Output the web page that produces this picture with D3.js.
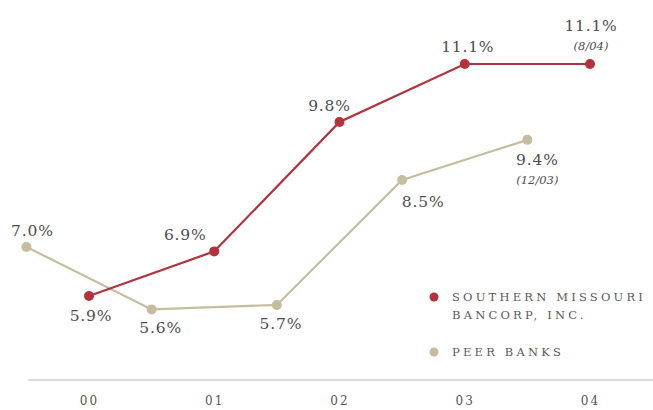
<!DOCTYPE html>
<html><head><meta charset="utf-8">
<script src="https://cdn.jsdelivr.net/npm/d3@7"></script>
<style>body{margin:0;background:#fff}svg{display:block}</style>
</head><body>
<svg id="c" width="653" height="410"></svg>
<script>
const years = ["00","01","02","03","04"];
const smbValues = [5.9, 6.9, 9.8, 11.1, 11.1];
const peerValues = [7.0, 5.6, 5.7, 8.5, 9.4];
const smbNotes = ["", "", "", "", "(8/04)"];
const peerNotes = ["", "", "", "", "(12/03)"];
const legendLabels = [["SOUTHERN MISSOURI", "BANCORP, INC."], ["PEER BANKS"]];

const RED = "#b3323c", TAN = "#c4bd9f", TXT = "#4d4d4d";
const svg = d3.select("#c");
const x = d3.scaleLinear().domain([0, 4]).range([89, 590]);
const y = d3.scaleLinear().domain([5.9, 11.1]).range([296, 64]);

// axis
const axis = d3.axisBottom(x).tickValues([0,1,2,3,4]).tickFormat(i => years[i]).tickSize(0).tickPadding(16);
const ax = svg.append("g").attr("transform", "translate(0,380)").call(axis);
ax.select(".domain").remove();
ax.append("line").attr("x1", 28).attr("x2", 653).attr("stroke", "#cfcfcf").attr("stroke-width", 1.5);
ax.selectAll("text").attr("font-family", "DejaVu Serif").attr("font-size", 12).attr("letter-spacing", 2).attr("fill", "#555");

const smb = smbValues.map((v, i) => ({x: x(i), y: y(v), v, note: smbNotes[i]}));
const peer = peerValues.map((v, i) => ({x: x(i - 0.5), y: y(v), v, note: peerNotes[i]}));
const line = d3.line().x(d => d.x).y(d => d.y);

svg.append("path").datum(peer).attr("d", line).attr("fill", "none").attr("stroke", TAN).attr("stroke-width", 2.2);
svg.append("path").datum(smb).attr("d", line).attr("fill", "none").attr("stroke", RED).attr("stroke-width", 2.2);
svg.selectAll(".pp").data(peer).join("circle").attr("cx", d => d.x).attr("cy", d => d.y).attr("r", 5).attr("fill", TAN);
svg.selectAll(".sp").data(smb).join("circle").attr("cx", d => d.x).attr("cy", d => d.y).attr("r", 5).attr("fill", RED);

// label offsets [dx, dy] relative to each point
const smbOff = [[2, 25], [-29, -11], [-10, -11], [3, -12], [1, -33]];
const peerOff = [[6, -11], [9, 24], [4, 24], [21, 27], [10, 25]];
function labels(pts, off) {
  pts.forEach((d, i) => {
    svg.append("text").attr("x", d.x + off[i][0]).attr("y", d.y + off[i][1])
      .attr("text-anchor", "middle").attr("font-family", "DejaVu Serif").attr("font-size", 15.5)
      .attr("letter-spacing", 0.8).attr("fill", TXT).text(d.v.toFixed(1) + "%");
    if (d.note) svg.append("text").attr("x", d.x + off[i][0]).attr("y", d.y + off[i][1] + 19)
      .attr("text-anchor", "middle").attr("font-family", "DejaVu Serif").attr("font-style", "italic")
      .attr("font-size", 11.5).attr("fill", TXT).text(d.note);
  });
}
labels(smb, smbOff);
labels(peer, peerOff);

// legend
const lg = svg.append("g");
[[RED, 297], [TAN, 352]].forEach(([c, yy], i) => {
  lg.append("circle").attr("cx", 434).attr("cy", yy).attr("r", 4.5).attr("fill", c);
  legendLabels[i].forEach((s, j) => {
    lg.append("text").attr("x", 452).attr("y", yy + 4 + j * 18).attr("font-family", "DejaVu Serif")
      .attr("font-size", 11.5).attr("letter-spacing", 3.2).attr("fill", "#5a5a5a").text(s);
  });
});
</script>
</body></html>
